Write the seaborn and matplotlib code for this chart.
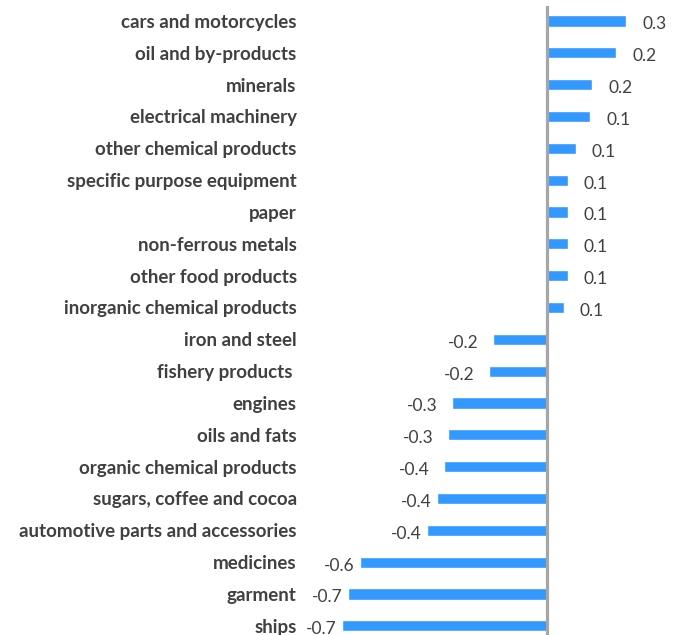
import numpy as np
import pandas as pd
import matplotlib.pyplot as plt
import seaborn as sns

# categories top to bottom
categories = [
    "cars and motorcycles", "oil and by-products", "minerals",
    "electrical machinery", "other chemical products",
    "specific purpose equipment", "paper", "non-ferrous metals",
    "other food products", "inorganic chemical products",
    "iron and steel", "fishery products ", "engines", "oils and fats",
    "organic chemical products", "sugars, coffee and cocoa",
    "automotive parts and accessories", "medicines", "garment", "ships",
]
values = [0.27, 0.236, 0.153, 0.146, 0.097,
          0.07, 0.07, 0.07, 0.07, 0.056,
          -0.186, -0.201, -0.325, -0.34, -0.354,
          -0.377, -0.412, -0.643, -0.683, -0.704]

sns.set_theme(style="white")
plt.rcParams["font.family"] = ["Lato", "DejaVu Sans"]

df = pd.DataFrame({"category": categories, "value": values})

W, H = 687, 635
fig = plt.figure(figsize=(W / 100, H / 100), dpi=100)
ax = fig.add_axes([305 / W, 0, 1 - 305 / W, 1 - 6 / H])

sns.barplot(data=df, x="value", y="category", color="#3399FF",
            saturation=1, width=0.35, ax=ax)

ax.axvline(0, color="#A6A6A6", lw=2.3, zorder=3)
ax.set_xlim(-0.830, 0.478)
ax.set_ylim(19.29, -0.47)

# value labels next to the bar ends (tighter gap on the long negative bars)
for i, v in enumerate(values):
    if v > 0:
        off = 11.5
    elif v > -0.36:
        off = -10.5
    else:
        off = -4
    ax.annotate(f"{v:.1f}", xy=(v, i), xytext=(off, -2.5),
                textcoords="offset points", va="center",
                ha="left" if v > 0 else "right",
                fontsize=12.5, color="#404040")

for s in ax.spines.values():
    s.set_visible(False)
ax.set_xticks([])
ax.set_xlabel("")
ax.set_ylabel("")
ax.tick_params(axis="y", length=0, pad=6)
for t in ax.get_yticklabels():
    t.set_fontweight("bold")
    t.set_fontsize(13.5)
    t.set_color("#404040")

fig.savefig("out.png", dpi=100)
plt.close(fig)
